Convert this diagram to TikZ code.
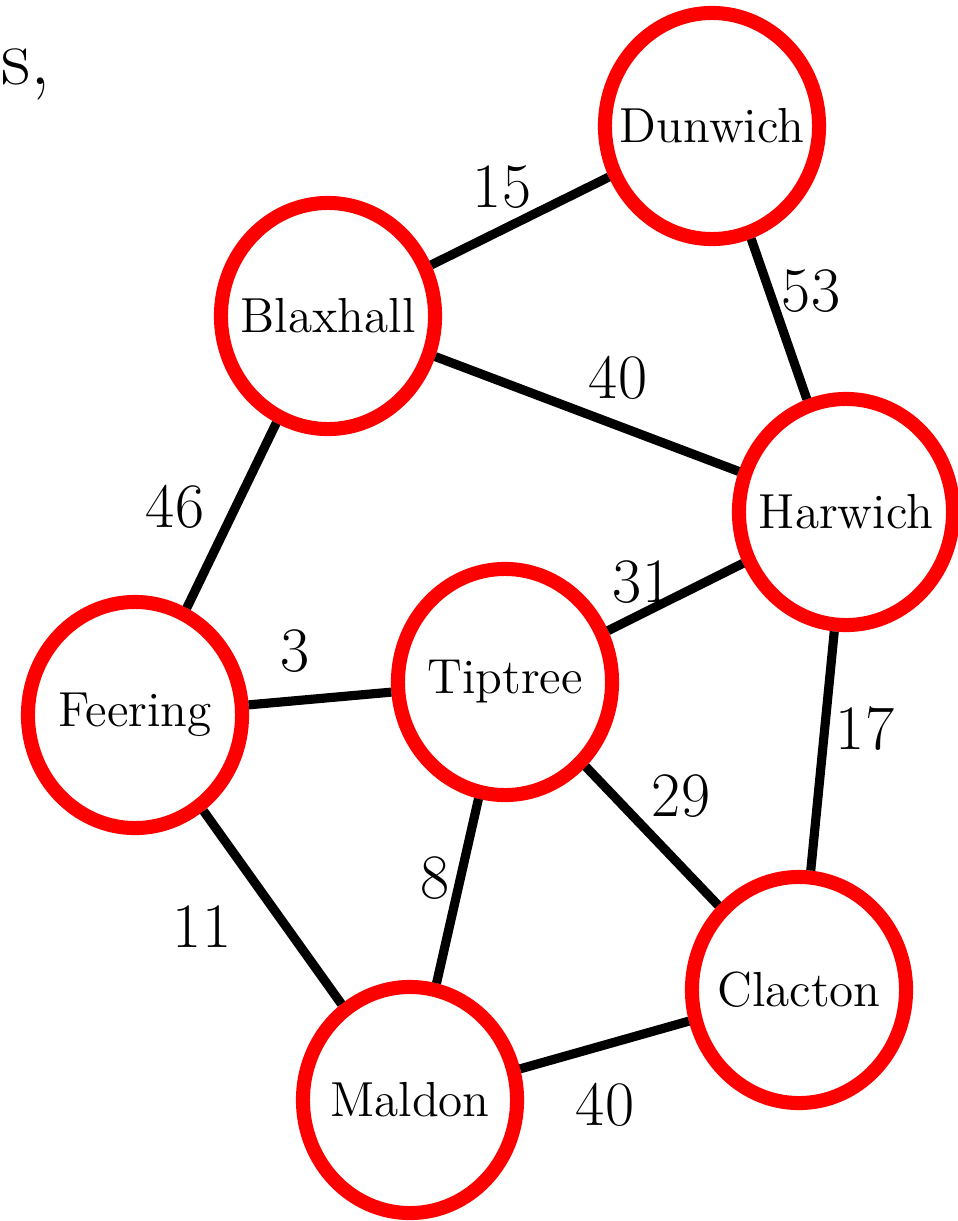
\documentclass[tikz,border=0pt]{standalone}
\usepackage{tikz}
\usetikzlibrary{shapes.geometric, positioning}
\definecolor{townRed}{RGB}{255, 0, 0}
% town name in a box of no width, so that it does not widen the ring
\newcommand{\townname}[1]{\makebox[0pt]{#1}}
\tikzset{
    town/.style={ellipse, draw=townRed, line width=4pt, fill=white, minimum width=2.14cm, minimum height=2.26cm, inner sep=0pt, font=\fontsize{14}{16}\selectfont},
    road/.style={line width=2.6pt, black},
    wt/.style={font=\fontsize{18}{20}\selectfont, inner sep=0pt}
}

\begin{document}
\begin{tikzpicture}[x=0.01cm, y=-0.01cm]
    \useasboundingbox (0,0) rectangle (957,1221);
    % leftover of the text beside the picture
    \node[font=\fontsize{23}{26}\selectfont, inner sep=0pt, anchor=base east] (frag) at (51,84) {es,};

    % Towns
    \node[town] (dun) at (712,126) {\townname{Dunwich}};
    \node[town] (bla) at (328,316) {\townname{Blaxhall}};
    \node[town] (har) at (846,512) {\townname{Harwich}};
    \node[town] (fee) at (135,715) {\townname{Feering}};
    \node[town] (tip) at (505,682) {\townname{Tiptree}};
    \node[town] (cla) at (799,990) {\townname{Clacton}};
    \node[town] (mal) at (410,1100) {\townname{Maldon}};

    % Roads
    \draw[road] (bla) -- (dun);
    \draw[road] (dun) -- (har);
    \draw[road] (bla) -- (har);
    \draw[road] (bla) -- (fee);
    \draw[road] (fee) -- (tip);
    \draw[road] (tip) -- (har);
    \draw[road] (har) -- (cla);
    \draw[road] (tip) -- (cla);
    \draw[road] (tip) -- (mal);
    \draw[road] (fee) -- (mal);
    \draw[road] (mal) -- (cla);

    % Distances
    \node[wt] (d15) at (502,187) {15};
    \node[wt] (d53) at (811,291) {53};
    \node[wt] (d40a) at (618,378) {40};
    \node[wt] (d46) at (175,507) {46};
    \node[wt] (d3) at (295,651) {3};
    \node[wt] (d31) at (642,582) {31};
    \node[wt] (d17) at (865,729) {17};
    \node[wt] (d29) at (681,796) {29};
    \node[wt] (d8) at (435,878) {8};
    \node[wt] (d11) at (202,927) {11};
    \node[wt] (d40b) at (605,1105) {40};
\end{tikzpicture}
\end{document}
